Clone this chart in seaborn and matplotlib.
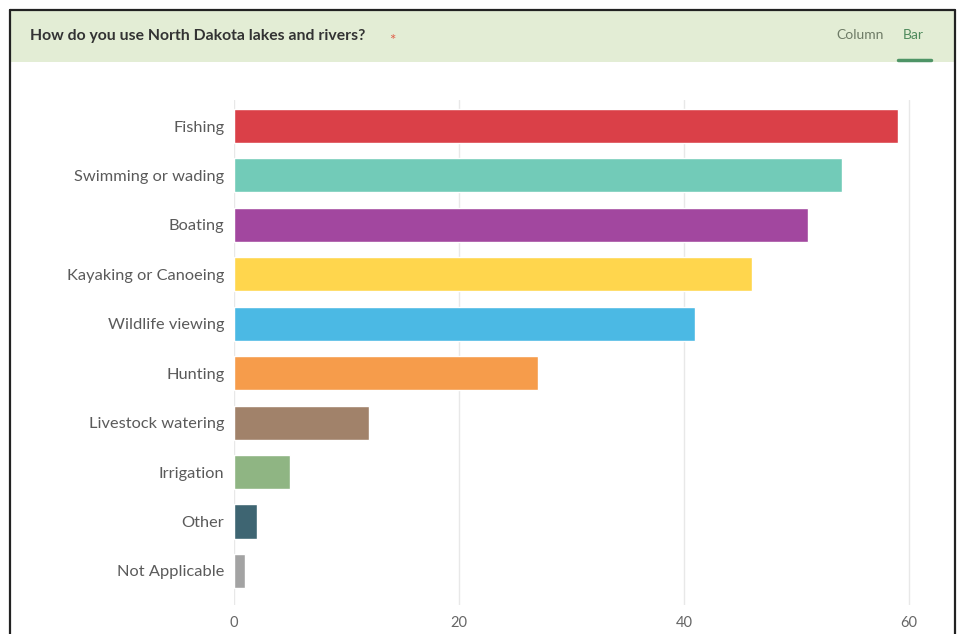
import matplotlib
matplotlib.use("Agg")
import matplotlib.pyplot as plt
import seaborn as sns
import pandas as pd
from matplotlib.patches import Rectangle
from matplotlib.lines import Line2D

categories = [
    "Fishing", "Swimming or wading", "Boating", "Kayaking or Canoeing",
    "Wildlife viewing", "Hunting", "Livestock watering", "Irrigation",
    "Other", "Not Applicable",
]
responses = [59, 54, 51, 46, 41, 27, 12, 5, 2, 1]
bar_colors = [
    "#DA4048", "#72CBB8", "#A2479F", "#FFD64D", "#4BB9E4",
    "#F69C4B", "#A1826A", "#8FB583", "#3E6572", "#A3A3A3",
]
x_ticks = [0, 20, 40, 60]
title = "How do you use North Dakota lakes and rivers?"

sns.set_theme(style="white")
plt.rcParams["font.family"] = ["Lato", "DejaVu Sans"]

df = pd.DataFrame({"use": categories, "count": responses})

W, H = 959, 634
fig = plt.figure(figsize=(W / 100, H / 100), dpi=100)
fig.patch.set_facecolor("white")

def fx(px):
    return px / W

def fy(py):
    return 1 - py / H

# header band and outer frame
fig.patches.append(Rectangle((fx(11), fy(62)), fx(945), 51 / H,
                             transform=fig.transFigure, facecolor="#E3EDD5",
                             edgecolor="none", zorder=0))
fig.lines.append(Line2D([fx(10), fx(10)], [fy(10), 0], transform=fig.transFigure,
                        color="#222222", lw=1.6))
fig.lines.append(Line2D([fx(955), fx(955)], [fy(10), 0], transform=fig.transFigure,
                        color="#222222", lw=1.6))
fig.lines.append(Line2D([fx(10), fx(955)], [fy(10), fy(10)], transform=fig.transFigure,
                        color="#222222", lw=1.6))

fig.text(fx(30), fy(36), title, fontsize=11.3, fontweight="bold",
         color="#333333", va="center", ha="left")
fig.text(fx(389), fy(41), "*", fontsize=11, color="#E0604A", va="center", ha="left")
fig.text(fx(860), fy(35), "Column", fontsize=10, color="#6E7B66",
         va="center", ha="center")
fig.text(fx(913), fy(35), "Bar", fontsize=10, color="#4E8A5C",
         va="center", ha="center")
fig.lines.append(Line2D([fx(898), fx(931)], [fy(60), fy(60)], transform=fig.transFigure,
                        color="#4E9466", lw=2.5))

# plotting area
ax_left, ax_right = 234, 234 + 61 * 11.25
ax_top, ax_bottom = 100, 605
ax = fig.add_axes([fx(ax_left), fy(ax_bottom), fx(ax_right - ax_left),
                   (ax_bottom - ax_top) / H])

sns.barplot(data=df, y="use", x="count", hue="use", palette=bar_colors,
            legend=False, width=0.69, saturation=1, ax=ax, zorder=3)

ax.set_xlim(0, 61)
ax.set_ylim(9.69, -0.526)
ax.set_xticks(x_ticks)
ax.set_xticklabels([str(t) for t in x_ticks])
ax.xaxis.grid(True, color="#E8E8E8", lw=1)
ax.set_axisbelow(True)
for s in ax.spines.values():
    s.set_visible(False)
ax.set_xlabel("")
ax.set_ylabel("")
ax.tick_params(axis="x", length=0, pad=8, labelsize=10.5, labelcolor="#666666")
ax.tick_params(axis="y", length=0, pad=7, labelsize=11.8, labelcolor="#5A5A5A")

fig.savefig("out.png", dpi=100, facecolor="white")
